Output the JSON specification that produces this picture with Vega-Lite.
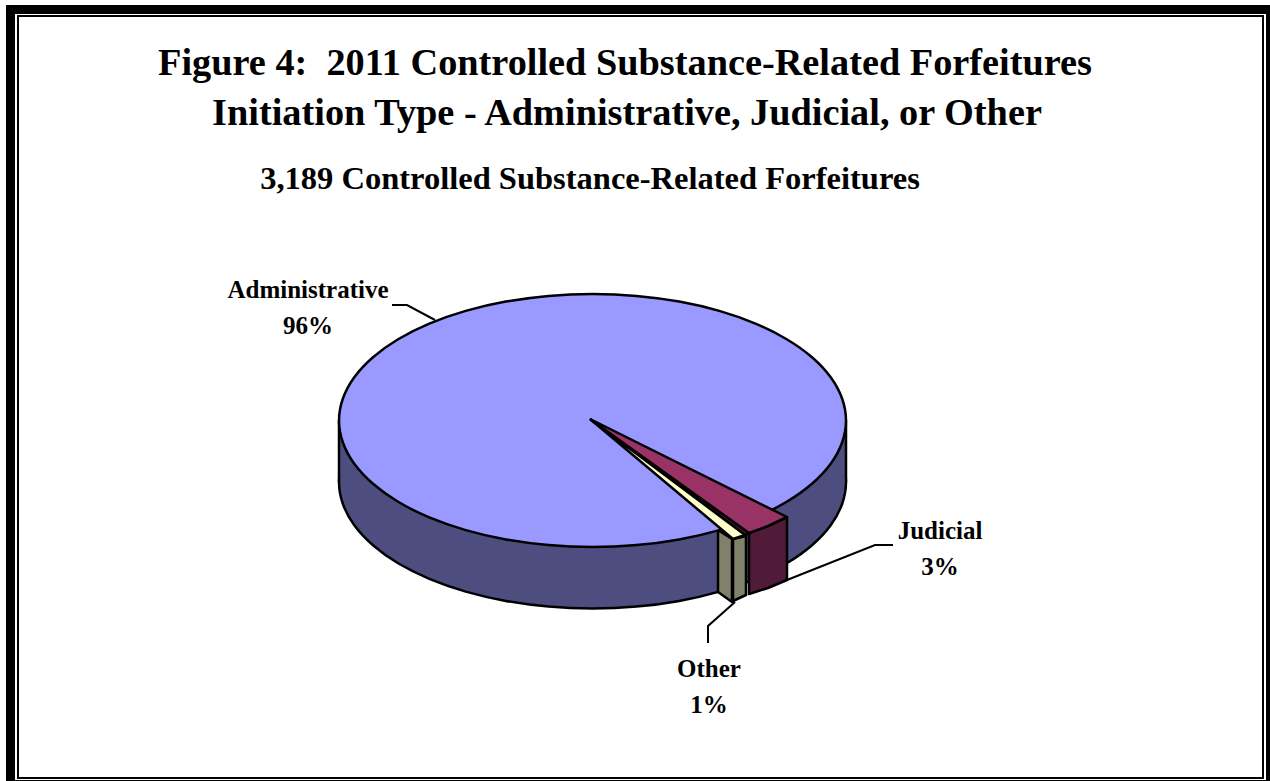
{
"$schema":"https://vega.github.io/schema/vega-lite/v6.json",
"width":1270,"height":781,"padding":0,"autosize":{"type":"none"},
"background":"white",
"config":{"view":{"stroke":null}},
"datasets":{
"rim":[
{"i":0,"x":846,"y":420.5,"yLow":482},{"i":1,"x":842.1,"y":442.5,"yLow":504},{"i":2,"x":830.7,"y":463.8,"yLow":525.3},{"i":3,"x":812,"y":483.8,"yLow":545.3},{"i":4,"x":786.7,"y":501.8,"yLow":563.3},{"i":5,"x":755.5,"y":517.4,"yLow":578.9},{"i":6,"x":719.3,"y":530.1,"yLow":591.6},{"i":7,"x":679.2,"y":539.4,"yLow":600.9},{"i":8,"x":636.5,"y":545.1,"yLow":606.6},{"i":9,"x":592.5,"y":547,"yLow":608.5},{"i":10,"x":548.5,"y":545.1,"yLow":606.6},{"i":11,"x":505.8,"y":539.4,"yLow":600.9},{"i":12,"x":465.7,"y":530.1,"yLow":591.6},{"i":13,"x":429.3,"y":517.4,"yLow":578.9},{"i":14,"x":398.1,"y":501.8,"yLow":563.3},{"i":15,"x":373,"y":483.8,"yLow":545.3},{"i":16,"x":354.3,"y":463.8,"yLow":525.3},{"i":17,"x":342.9,"y":442.5,"yLow":504},{"i":18,"x":339,"y":420.5,"yLow":482},{"i":19,"x":342.9,"y":398.5,"yLow":460},{"i":20,"x":354.3,"y":377.2,"yLow":438.7},{"i":21,"x":373,"y":357.2,"yLow":418.7},{"i":22,"x":398.1,"y":339.2,"yLow":400.7},{"i":23,"x":429.3,"y":323.6,"yLow":385.1},{"i":24,"x":465.7,"y":310.9,"yLow":372.4},{"i":25,"x":505.8,"y":301.6,"yLow":363.1},{"i":26,"x":548.5,"y":295.9,"yLow":357.4},{"i":27,"x":592.5,"y":294,"yLow":355.5},{"i":28,"x":636.5,"y":295.9,"yLow":357.4},{"i":29,"x":679.2,"y":301.6,"yLow":363.1},{"i":30,"x":719.3,"y":310.9,"yLow":372.4},{"i":31,"x":755.5,"y":323.6,"yLow":385.1},{"i":32,"x":786.7,"y":339.2,"yLow":400.7},{"i":33,"x":812,"y":357.2,"yLow":418.7},{"i":34,"x":830.7,"y":377.2,"yLow":438.7},{"i":35,"x":842.1,"y":398.5,"yLow":460}
],
"faces":[
{"part":"otherWallA","i":0,"x":718,"y":530},{"part":"otherWallA","i":1,"x":732,"y":539},{"part":"otherWallA","i":2,"x":732,"y":602},{"part":"otherWallA","i":3,"x":718,"y":592},{"part":"otherWallA","i":4,"x":718,"y":530},
{"part":"otherWallB","i":0,"x":733,"y":539},{"part":"otherWallB","i":1,"x":746,"y":536},{"part":"otherWallB","i":2,"x":746,"y":595},{"part":"otherWallB","i":3,"x":733,"y":601},{"part":"otherWallB","i":4,"x":733,"y":539},
{"part":"judicialWall","i":0,"x":749,"y":533},{"part":"judicialWall","i":1,"x":768,"y":526},{"part":"judicialWall","i":2,"x":787,"y":517},{"part":"judicialWall","i":3,"x":787,"y":580},{"part":"judicialWall","i":4,"x":768,"y":588},{"part":"judicialWall","i":5,"x":749,"y":594},{"part":"judicialWall","i":6,"x":749,"y":533},
{"part":"gap","i":0,"x":590,"y":419},{"part":"gap","i":1,"x":749,"y":533},{"part":"gap","i":2,"x":745,"y":535},{"part":"gap","i":3,"x":590,"y":419},
{"part":"otherTop","i":0,"x":590,"y":419},{"part":"otherTop","i":1,"x":745,"y":535},{"part":"otherTop","i":2,"x":733,"y":539},{"part":"otherTop","i":3,"x":590,"y":419},
{"part":"judicialTop","i":0,"x":590,"y":419},{"part":"judicialTop","i":1,"x":787,"y":517},{"part":"judicialTop","i":2,"x":768,"y":526},{"part":"judicialTop","i":3,"x":749,"y":533},{"part":"judicialTop","i":4,"x":590,"y":419}
],
"leaders":[
{"slice":"Administrative","i":0,"x":392,"y":305},{"slice":"Administrative","i":1,"x":407,"y":305},{"slice":"Administrative","i":2,"x":435,"y":320},
{"slice":"Judicial","i":0,"x":893,"y":545},{"slice":"Judicial","i":1,"x":875,"y":545},{"slice":"Judicial","i":2,"x":787,"y":580},
{"slice":"Other","i":0,"x":708,"y":643},{"slice":"Other","i":1,"x":708,"y":626},{"slice":"Other","i":2,"x":735,"y":602}
],
"labels":[
{"label":"Administrative\n96%","x":308,"y":290},
{"label":"Judicial\n3%","x":940,"y":531},
{"label":"Other\n1%","x":709,"y":669}
],
"headings":[
{"label":"Figure 4:\u00a0\u00a02011 Controlled Substance-Related Forfeitures","x":625,"y":64},
{"label":"Initiation Type - Administrative, Judicial, or Other","x":627,"y":114}
],
"sub":[{"label":"3,189 Controlled Substance-Related Forfeitures","x":590,"y":179}],
"frames":[
{"kind":"outer","x":10.5,"x2":1270.5,"y":9.5,"y2":784.5},
{"kind":"inner","x":18,"x2":1263,"y":16,"y2":778}
]
},
"encoding":{
"x":{"field":"x","type":"quantitative","axis":null,"scale":{"domain":[0,1270],"nice":false,"zero":false}},
"y":{"field":"y","type":"quantitative","axis":null,"scale":{"domain":[781,0],"nice":false,"zero":false}}
},
"layer":[
{"data":{"name":"frames"},
 "mark":{"type":"rect","fill":null,"stroke":"black","clip":false},
 "encoding":{"x2":{"field":"x2"},"y2":{"field":"y2"},
 "strokeWidth":{"field":"kind","type":"nominal","legend":null,"scale":{"domain":["outer","inner"],"range":[9,2]}}}},
{"data":{"name":"rim"},
 "mark":{"type":"line","interpolate":"cardinal-closed","fill":"#4d4d80","stroke":"black","strokeWidth":2.5},
 "encoding":{"y":{"field":"yLow","type":"quantitative"},"order":{"field":"i"}}},
{"data":{"values":[{"x":339,"x2":846,"y":420.5,"y2":482}]},
 "mark":{"type":"rect","fill":"#4d4d80"},
 "encoding":{"x2":{"field":"x2"},"y2":{"field":"y2"}}},
{"data":{"values":[{"x":339,"y":420.5,"y2":482},{"x":846,"y":420.5,"y2":482}]},
 "mark":{"type":"rule","stroke":"black","strokeWidth":2.5},
 "encoding":{"y2":{"field":"y2"}}},
{"data":{"name":"rim"},
 "mark":{"type":"line","interpolate":"cardinal-closed","fill":"#9999ff","stroke":"black","strokeWidth":2.5},
 "encoding":{"order":{"field":"i"}}},
{"data":{"name":"faces"},
 "mark":{"type":"line","stroke":"black","strokeWidth":2.5,"strokeJoin":"round"},
 "encoding":{"order":{"field":"i"},
 "fill":{"field":"part","type":"nominal","legend":null,"sort":null,
 "scale":{"domain":["otherWallA","otherWallB","judicialWall","gap","otherTop","judicialTop"],"range":["#80806b","#80806b","#4f1b38","#4f1b38","#ffffcc","#993366"]}}}},
{"data":{"name":"leaders"},
 "mark":{"type":"line","stroke":"black","strokeWidth":2},
 "encoding":{"detail":{"field":"slice"},"order":{"field":"i"}}},
{"data":{"name":"labels"},
 "mark":{"type":"text","font":"Liberation Serif","fontWeight":"bold","fontSize":25,"lineBreak":"\n","lineHeight":36,"color":"black"},
 "encoding":{"text":{"field":"label"}}},
{"data":{"name":"headings"},
 "mark":{"type":"text","font":"Liberation Serif","fontWeight":"bold","fontSize":38.3,"color":"black"},
 "encoding":{"text":{"field":"label"}}},
{"data":{"name":"sub"},
 "mark":{"type":"text","font":"Liberation Serif","fontWeight":"bold","fontSize":32.5,"color":"black"},
 "encoding":{"text":{"field":"label"}}}
]
}
